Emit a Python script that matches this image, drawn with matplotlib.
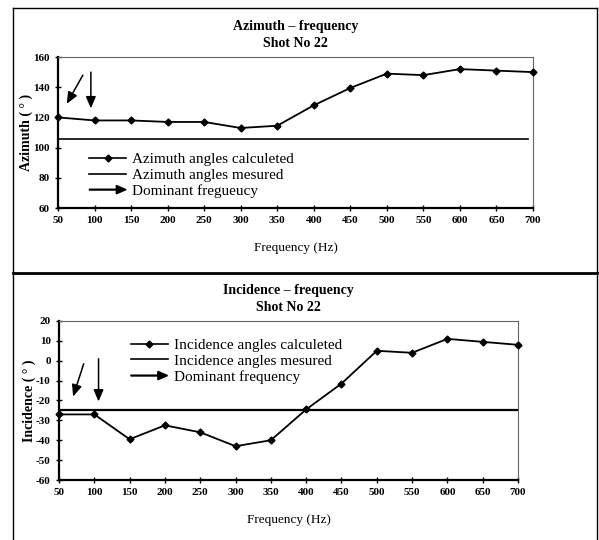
import matplotlib
matplotlib.use('Agg')
import matplotlib.pyplot as plt
from matplotlib.lines import Line2D
from matplotlib.patches import FancyArrow
from matplotlib.legend_handler import HandlerBase

plt.rcParams['font.family'] = ['Liberation Serif', 'DejaVu Serif']
plt.rcParams['axes.unicode_minus'] = False

freq = [50, 100, 150, 200, 250, 300, 350, 400, 450, 500, 550, 600, 650, 700]
azimuth_calc = [120, 118, 118, 117, 117, 113, 114.5, 128, 139.5, 149, 148, 152, 151, 150]
azimuth_meas = 106
incidence_calc = [-27, -27, -39.5, -32.5, -36, -43, -40, -24.5, -11.5, 5, 4, 11, 9.5, 8]
incidence_meas = -25

# dominant frequency arrows: (start, end) in data coords
az_arrows = [((84, 148), (62, 129)), ((95, 150), (95, 126))]
inc_arrows = [((85, -1.5), (70, -18)), ((106, 1), (106, -20.5))]

xticks = list(range(50, 701, 50))
az_yticks = [60, 80, 100, 120, 140, 160]
inc_yticks = [-60, -50, -40, -30, -20, -10, 0, 10, 20]


class ArrowHandler(HandlerBase):
    def create_artists(self, legend, orig_handle, xdescent, ydescent,
                       width, height, fontsize, trans):
        y = height / 2 - ydescent
        a = FancyArrow(-xdescent, y, width, 0, width=0.6, head_width=6,
                       head_length=7, length_includes_head=True,
                       color='black', transform=trans)
        return [a]


def draw_panel(ax, calc, meas, arrows, yticks, title, ylabel, labels, leg_anchor):
    ax.plot(freq, calc, color='black', lw=1.3, marker='D', ms=3.5, zorder=3, clip_on=False)
    ax.axhline(meas, color='black', lw=1.6 if meas < 0 else 1.2, xmax=1.0 if meas < 0 else 0.99)
    for start, end in arrows:
        ax.annotate('', xy=end, xytext=start,
                    arrowprops=dict(arrowstyle='-|>,head_length=0.7,head_width=0.3',
                                    color='black', lw=1.1, shrinkA=0, shrinkB=0))
    ax.set_xlim(50, 700)
    ax.set_ylim(yticks[0], yticks[-1])
    ax.set_xticks(xticks)
    ax.set_yticks(yticks)
    ax.tick_params(direction='inout', length=5, width=1, labelsize=8)
    for lab in ax.get_xticklabels() + ax.get_yticklabels():
        lab.set_fontweight('bold')
    for s in ['left', 'bottom']:
        ax.spines[s].set_linewidth(1.6)
    for s in ['top', 'right']:
        ax.spines[s].set_linewidth(0.8)
        ax.spines[s].set_color('#666666')
    ax.set_title(title + '\nShot No 22', fontsize=10, fontweight='bold',
                 linespacing=1.45, pad=7)
    ax.set_ylabel(ylabel, fontsize=10, fontweight='bold', labelpad=0)
    ax.set_xlabel('Frequency (Hz)', fontsize=9.5, labelpad=12)
    arrow_h = Line2D([], [])
    handles = [Line2D([], [], color='black', lw=1.2, marker='D', ms=3.5),
               Line2D([], [], color='black', lw=1.2),
               arrow_h]
    ax.legend(handles, labels, loc='upper left', bbox_to_anchor=leg_anchor,
              frameon=False, fontsize=11, handlelength=2.4, handletextpad=0.4,
              labelspacing=0.15, borderpad=0,
              handler_map={arrow_h: ArrowHandler()})


fig = plt.figure(figsize=(5.99, 5.40), dpi=100)
ax1 = fig.add_axes([0.0968, 0.6148, 0.7930, 0.2796])
ax2 = fig.add_axes([0.0985, 0.1111, 0.7663, 0.2945])

draw_panel(ax1, azimuth_calc, azimuth_meas, az_arrows, az_yticks,
           'Azimuth \u2013 frequency', 'Azimuth ( \u00b0 )',
           ['Azimuth angles calculeted', 'Azimuth angles mesured', 'Dominant fregueucy'],
           (0.05, 0.42))
draw_panel(ax2, incidence_calc, incidence_meas, inc_arrows, inc_yticks,
           'Incidence \u2013 frequency', 'Incidence ( \u00b0 )',
           ['Incidence angles calculeted', 'Incidence angles mesured', 'Dominant frequency'],
           (0.14, 0.94))

# outer frame and divider
fig.add_artist(Line2D([0.022, 0.022], [0.0, 0.985], color='black', lw=1.0))
fig.add_artist(Line2D([0.997, 0.997], [0.0, 0.985], color='black', lw=1.0))
fig.add_artist(Line2D([0.022, 0.997], [0.985, 0.985], color='black', lw=1.0))
fig.add_artist(Line2D([0.022, 0.997], [1 - 273 / 540, 1 - 273 / 540], color='black', lw=2))

fig.savefig('out.png', dpi=100)
